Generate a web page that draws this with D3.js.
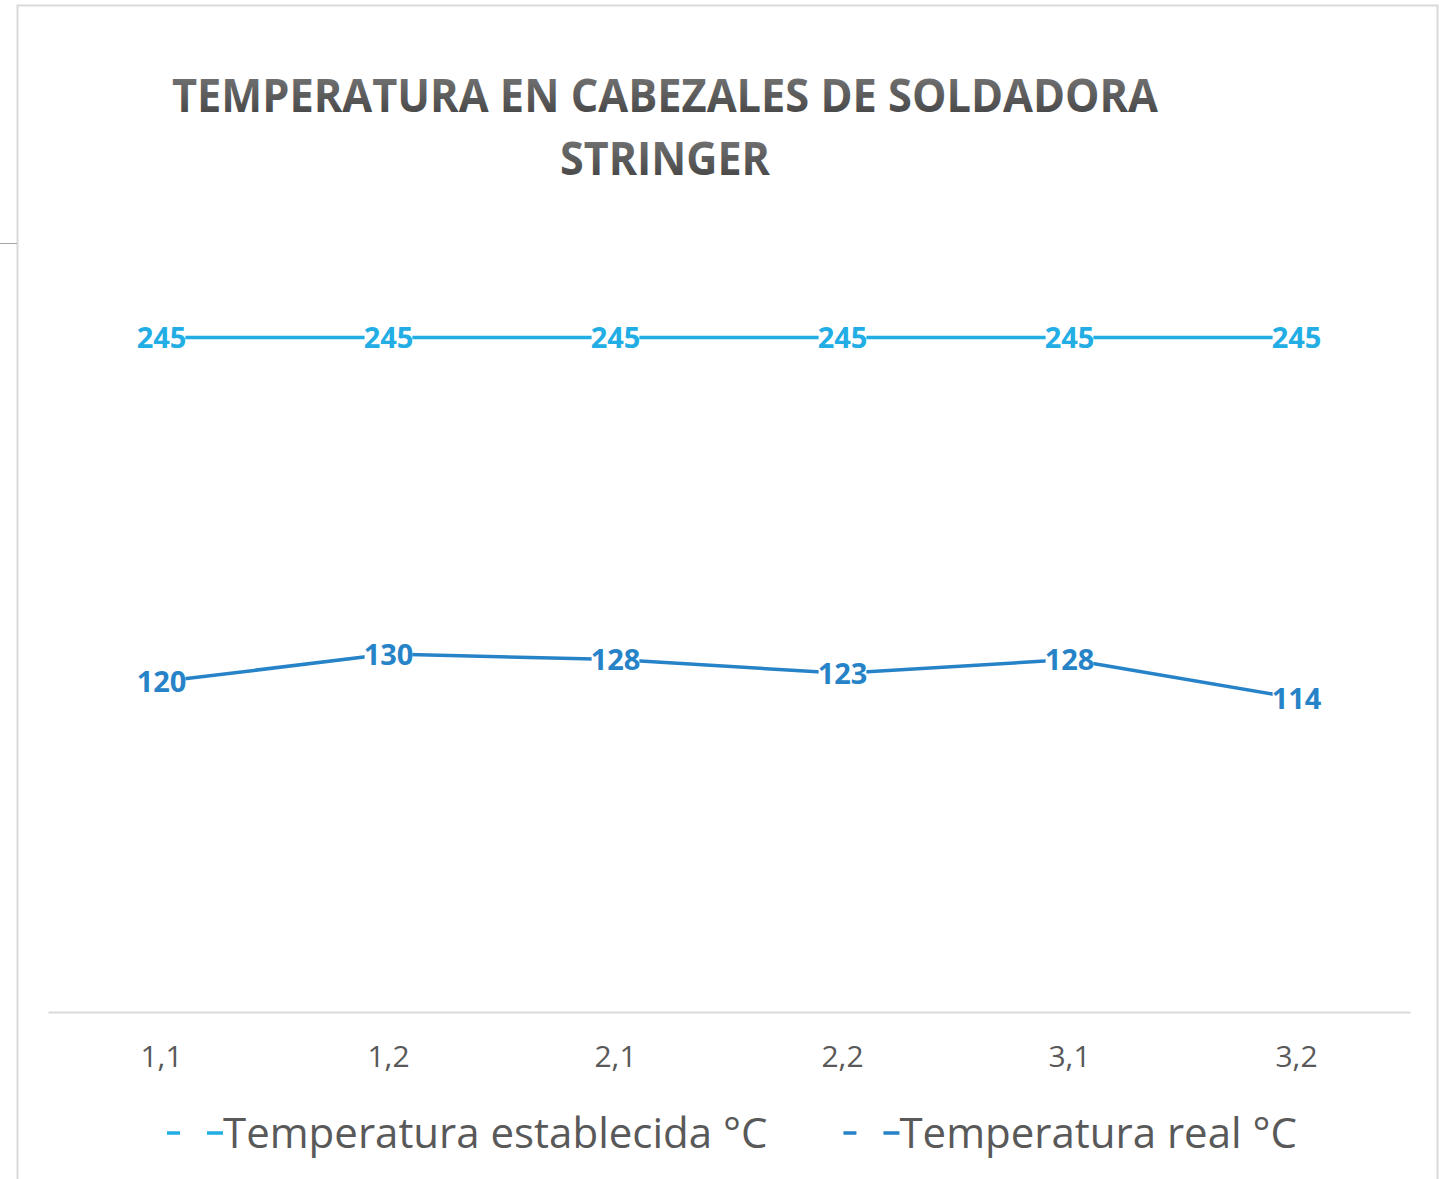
<!DOCTYPE html>
<html>
<head>
<meta charset="utf-8">
<script src="https://cdn.jsdelivr.net/npm/d3@7.9.0/dist/d3.min.js"></script>
<style>
  body { margin: 0; background: #fff; }
  svg { display: block; }
  text { font-family: 'Open Sans', 'Noto Sans', sans-serif; }
</style>
</head>
<body>
<div id="chart"></div>
<script>
const categories = ['1,1', '1,2', '2,1', '2,2', '3,1', '3,2'];
const establecida = [245, 245, 245, 245, 245, 245];
const real = [120, 130, 128, 123, 128, 114];
const seriesNames = ['Temperatura establecida °C', 'Temperatura real °C'];
const titleLines = ['TEMPERATURA EN CABEZALES DE SOLDADORA', 'STRINGER'];

const width = 1439;
const height = 1179;
const colors = ['#22ade4', '#2783c7'];

const svg = d3.select('#chart')
  .append('svg')
  .attr('width', width)
  .attr('height', height);

// chart frame
svg.append('rect')
  .attr('x', 17.5).attr('y', 5.5)
  .attr('width', 1420).attr('height', 1200)
  .attr('fill', '#fff')
  .attr('stroke', '#d9d9d9')
  .attr('stroke-width', 2);

svg.append('line')
  .attr('x1', 0).attr('x2', 17)
  .attr('y1', 243.5).attr('y2', 243.5)
  .attr('stroke', '#a6a6a6');

// title with grey gradient
const grad = svg.append('defs').append('linearGradient')
  .attr('id', 'titleGrad')
  .attr('x1', 0).attr('x2', 0).attr('y1', 0).attr('y2', 1);
grad.append('stop').attr('offset', '0%').attr('stop-color', '#808080');
grad.append('stop').attr('offset', '100%').attr('stop-color', '#3c3c3c');

const titleLengths = [986, 210];
const title = svg.append('g').attr('class', 'title');
titleLines.forEach((t, i) => {
  title.append('text')
    .attr('x', 665)
    .attr('y', 112 + i * 63)
    .attr('text-anchor', 'middle')
    .attr('font-size', 46)
    .attr('font-weight', 700)
    .attr('fill', 'url(#titleGrad)')
    .attr('textLength', titleLengths[i])
    .attr('lengthAdjust', 'spacingAndGlyphs')
    .text(t);
});

const margin = { top: 186, right: 29, bottom: 167, left: 48 };
const usable = {
  left: margin.left,
  right: width - margin.right,
  top: margin.top,
  bottom: height - margin.bottom,
};

const xScale = d3.scaleBand()
  .domain(categories)
  .range([usable.left, usable.right]);

const yScale = d3.scaleLinear()
  .domain([0, 300])
  .range([usable.bottom, usable.top]);

const xAxis = svg.append('g')
  .attr('transform', `translate(0, ${usable.bottom})`)
  .call(d3.axisBottom(xScale).tickSize(0).tickPadding(34));

xAxis.select('.domain').attr('stroke', '#d9d9d9').attr('stroke-width', 2);
xAxis.selectAll('text')
  .attr('font-size', 30)
  .attr('fill', '#595959')
  .attr('font-family', "'Open Sans', sans-serif");

const xc = (i) => xScale(categories[i]) + xScale.bandwidth() / 2;

const seriesList = [establecida, real];

const line = d3.line()
  .x((d, i) => xc(i))
  .y((d) => yScale(d));

seriesList.forEach((values, s) => {
  svg.append('path')
    .datum(values)
    .attr('d', line)
    .attr('fill', 'none')
    .attr('stroke', colors[s])
    .attr('stroke-width', 3.5)
    .attr('stroke-linejoin', 'round');
});

// data labels sit on a white box that hides the line beneath them
seriesList.forEach((values, s) => {
  const labels = svg.append('g')
    .selectAll('g')
    .data(values)
    .join('g')
    .attr('transform', (d, i) => `translate(${xc(i)}, ${yScale(d)})`);

  const bg = labels.append('rect').attr('fill', '#fff');

  labels.append('text')
    .attr('dy', '0.36em')
    .attr('text-anchor', 'middle')
    .attr('font-size', 29)
    .attr('font-weight', 700)
    .attr('fill', colors[s])
    .text((d) => d);

  labels.each(function () {
    const b = d3.select(this).select('text').node().getBBox();
    d3.select(this).select('rect')
      .attr('x', b.x + 1).attr('y', b.y + 6)
      .attr('width', b.width - 2).attr('height', b.height - 12);
  });
});

// legend
const legend = svg.append('g').attr('class', 'legend');
const legendY = 1133;
const items = seriesNames.map((name, s) => {
  const g = legend.append('g');
  g.append('line')
    .attr('x1', 0).attr('x2', 56)
    .attr('y1', 0).attr('y2', 0)
    .attr('stroke', colors[s])
    .attr('stroke-width', 3.5)
    .attr('stroke-dasharray', '13,27,16');
  g.append('text')
    .attr('x', 56)
    .attr('y', 0)
    .attr('dy', '0.36em')
    .attr('font-size', 42)
    .attr('fill', '#595959')
    .text(name);
  return g;
});

const gap = 76;
const widths = items.map((g) => g.node().getBBox().width);
const total = d3.sum(widths) + gap * (items.length - 1);
let x0 = 732 - total / 2;
items.forEach((g, i) => {
  g.attr('transform', `translate(${x0}, ${legendY})`);
  x0 += widths[i] + gap;
});
</script>
</body>
</html>
